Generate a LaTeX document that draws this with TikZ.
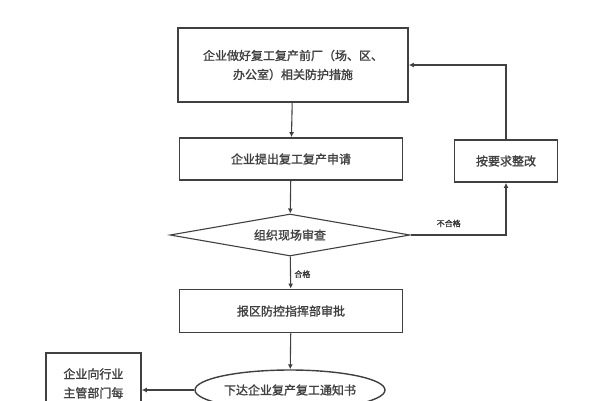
\documentclass[tikz,border=0pt]{standalone}
\usepackage{fontspec}
\setmainfont{Noto Sans CJK SC}[FakeBold=1.5]
\usetikzlibrary{shapes.geometric,arrows.meta}
\begin{document}
\begin{tikzpicture}[x=1pt,y=-1pt,
  bx/.style={draw=black!75,line width=1.8pt,align=center,font=\fontsize{12}{19}\selectfont,text=black!75,inner sep=0},
  ar/.style={draw=black!75,line width=1.1pt,-{Latex[length=5pt,width=5pt]}},
  lb/.style={font=\fontsize{8}{9}\selectfont,text=black!80}]
\useasboundingbox (0,0) rectangle (600,400);
\clip (0,0) rectangle (600,400);
\node[bx,minimum width=230,minimum height=74] (a) at (293,65) {企业做好复工复产前厂（场、区、\\办公室）相关防护措施};
\node[bx,minimum width=223,minimum height=42] (b) at (291,159) {企业提出复工复产申请};
\node[bx,diamond,aspect=6,minimum width=240,minimum height=42,line width=1.1pt] (c) at (290,235) {组织现场审查};
\node[bx,minimum width=223,minimum height=43] (d) at (291,311) {报区防控指挥部审批};
\node[bx,ellipse,minimum width=190,minimum height=40,line width=1.4pt] (e) at (290,390) {下达企业复产复工通知书};
\node[bx,minimum width=95,minimum height=80,anchor=north west] (f) at (45,352) {企业向行业\\主管部门每\\日报告复工};
\node[bx,minimum width=103,minimum height=42] (g) at (506,161) {按要求整改};
\draw[ar] (a) -- (b);
\draw[ar] (b) -- (c);
\draw[ar] (c) -- node[lb,right,pos=0.55]{合格} (d);
\draw[ar] (d) -- (e);
\draw[ar] (e) -- (f.east|-e);
\coordinate (c1) at (506,235);
\draw[ar] (c.east) -- node[lb,above,pos=0.4,yshift=4pt]{不合格} (c1) -- (g);
\coordinate (g1) at (506,65);
\draw[ar] (g) -- (g1) -- (a.east|-g1);
\end{tikzpicture}
\end{document}
